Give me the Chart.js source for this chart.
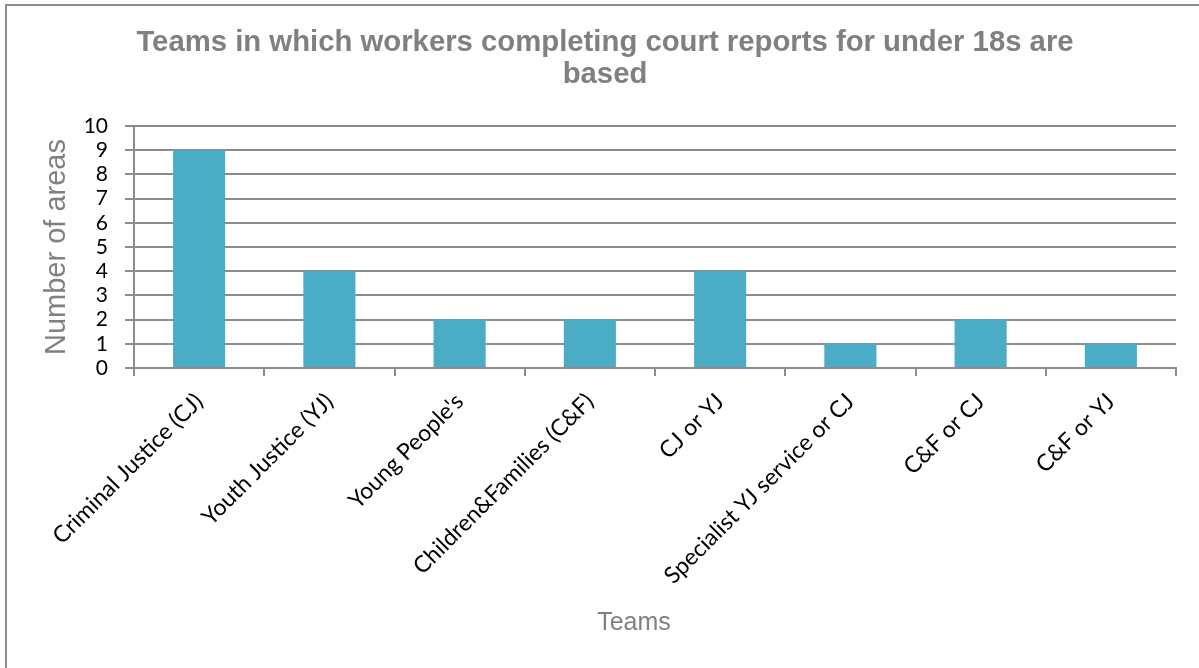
<!DOCTYPE html>
<html>
<head>
<meta charset="utf-8">
<script src="https://cdn.jsdelivr.net/npm/chart.js@4"></script>
<style>
  html, body { margin: 0; padding: 0; background: #ffffff; overflow: hidden; }
  #frame { position: absolute; left: 5px; top: 4px; width: 1300px; height: 800px;
           border-left: 2px solid #8c8c8c; border-top: 2px solid #8c8c8c; }
  #wrap { position: absolute; left: 0; top: 0; width: 1199px; height: 668px; }
</style>
</head>
<body>
<div id="frame"></div>
<div id="wrap"><canvas id="c" width="1199" height="668"></canvas></div>
<script>
const chartTitle = ["Teams in which workers completing court reports for under 18s are", "based"];
const categories = ["Criminal Justice (CJ)", "Youth Justice (YJ)", "Young People's", "Children&Families (C&F)", "CJ or YJ", "Specialist YJ service or CJ", "C&F or CJ", "C&F or YJ"];
const areaCounts = [9, 4, 2, 2, 4, 1, 2, 1];
const yTicks = [0, 1, 2, 3, 4, 5, 6, 7, 8, 9, 10];
const xAxisTitle = "Teams";
const yAxisTitle = "Number of areas";

const gridColor = '#8c8c8c';
const titleGray = '#808080';

// Draws the x-axis title a little left of the plot centre, as in the original
const xTitlePlugin = {
  id: 'xTitle',
  afterDraw(chart) {
    const { ctx, chartArea } = chart;
    ctx.save();
    ctx.font = "25px 'Liberation Sans', Arial, sans-serif";
    ctx.fillStyle = titleGray;
    ctx.textAlign = 'center';
    ctx.textBaseline = 'middle';
    const cx = (chartArea.left + chartArea.right) / 2 - 21;
    ctx.fillText(xAxisTitle, cx, chart.height - 45);
    ctx.restore();
  }
};

new Chart(document.getElementById('c'), {
  type: 'bar',
  data: {
    labels: categories,
    datasets: [{
      label: 'Number of areas',
      data: areaCounts,
      backgroundColor: '#4BACC6',
      borderWidth: 0,
      barPercentage: 0.4,
      categoryPercentage: 1.0
    }]
  },
  plugins: [xTitlePlugin],
  options: {
    responsive: false,
    animation: false,
    devicePixelRatio: 1,
    layout: { padding: { left: 34, right: 23, top: 0, bottom: 0 } },
    plugins: {
      legend: { display: false },
      tooltip: { enabled: false },
      title: {
        display: true,
        text: chartTitle,
        color: titleGray,
        font: { family: "'Liberation Sans', Arial, sans-serif", size: 29.3, weight: 'bold', lineHeight: 32/29.3 },
        padding: { top: 27, bottom: 35 }
      }
    },
    scales: {
      x: {
        afterFit: (s) => { s.height = 300; },
        grid: { display: true, drawOnChartArea: false, drawTicks: true, tickLength: 8, color: gridColor, lineWidth: 2 },
        border: { display: true, color: gridColor, width: 2 },
        ticks: {
          color: '#000000',
          font: { family: "Lato, 'Open Sans', sans-serif", size: 23 },
          minRotation: 45, maxRotation: 45, autoSkip: false, padding: 12
        },
        title: { display: false, text: xAxisTitle }
      },
      y: {
        min: 0, max: 10,
        afterFit: (s) => { s.width = 100; },
        afterBuildTicks: (s) => { s.ticks = yTicks.map(v => ({ value: v })); },
        grid: { color: gridColor, lineWidth: 2, tickLength: 9, drawTicks: true },
        border: { display: true, color: gridColor, width: 2 },
        ticks: {
          color: '#000000',
          autoSkip: false,
          stepSize: 1,
          font: { family: "Lato, 'Open Sans', sans-serif", size: 21, lineHeight: 1 },
          padding: 17
        },
        title: {
          display: true, text: yAxisTitle, color: titleGray,
          font: { family: "'Liberation Sans', Arial, sans-serif", size: 29 },
          padding: { top: 6, bottom: 0 }
        }
      }
    }
  }
});
</script>
</body>
</html>
